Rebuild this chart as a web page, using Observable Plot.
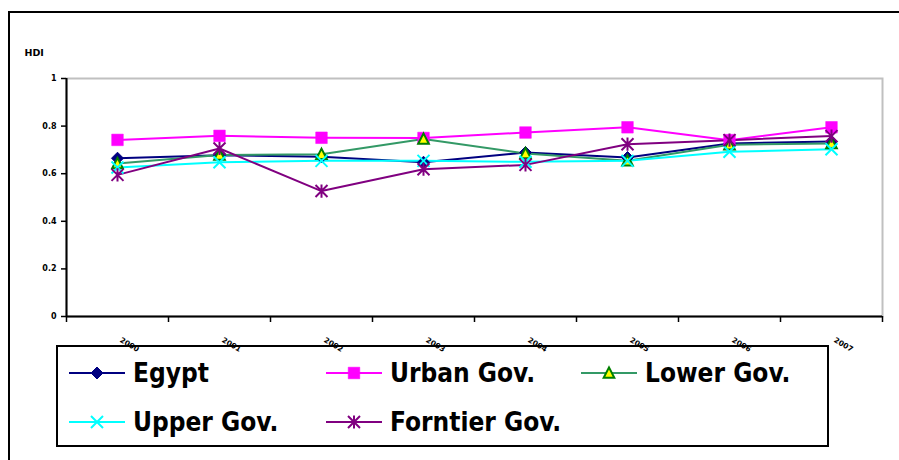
<!DOCTYPE html>
<html>
<head>
<meta charset="utf-8">
<script src="https://cdn.jsdelivr.net/npm/d3@7"></script>
<script src="https://cdn.jsdelivr.net/npm/@observablehq/plot@0.6"></script>
<style>
  body { margin: 0; background: #fff; }
  #chart { position: relative; width: 899px; height: 460px; overflow: hidden; background: #fff; }
  #chart svg.plot-main { position: absolute; left: 0; top: 0; z-index: 2; background: transparent; }
  .outer { position: absolute; left: 8px; top: 11px; width: 900px; height: 460px;
           border-top: 2px solid #000; border-left: 2px solid #000; box-sizing: border-box; z-index: 3; }
  .legend { position: absolute; left: 56px; top: 345px; width: 773px; height: 102px;
            border: 2px solid #000; box-sizing: border-box; background: #fff; z-index: 1; }
  .entry { position: absolute; height: 30px; display: flex; align-items: center; }
  .entry span { margin-left: 8px; font-family: "DejaVu Sans Condensed", "DejaVu Sans", sans-serif;
                font-stretch: condensed; font-weight: bold; font-size: 26px; line-height: 30px; color: #000; white-space: nowrap; }
</style>
</head>
<body>
<div id="chart"></div>
<script>
// Human Development Index by region, 2000–2007
const years = [2000, 2001, 2002, 2003, 2004, 2005, 2006, 2007];
const egypt    = [0.665, 0.678, 0.671, 0.648, 0.689, 0.668, 0.727, 0.735];
const urban    = [0.742, 0.759, 0.751, 0.750, 0.773, 0.795, 0.741, 0.795];
const lower    = [0.643, 0.679, 0.682, 0.746, 0.685, 0.654, 0.722, 0.727];
const upper    = [0.626, 0.648, 0.654, 0.654, 0.650, 0.654, 0.692, 0.703];
const frontier = [0.595, 0.706, 0.527, 0.619, 0.637, 0.724, 0.741, 0.758];
const seriesNames = ["Egypt", "Urban Gov.", "Lower Gov.", "Upper Gov.", "Forntier Gov."];
const yTicks = [0, 0.2, 0.4, 0.6, 0.8, 1];

// Marker shapes; the symbol size is π·r², so r is recovered as the half-extent.
const half = size => Math.sqrt(size / Math.PI);
const diamond = {draw(c, s) { const r = half(s); c.moveTo(0, -r); c.lineTo(r, 0); c.lineTo(0, r); c.lineTo(-r, 0); c.closePath(); }};
const square = {draw(c, s) { const r = half(s); c.rect(-r, -r, 2 * r, 2 * r); }};
const triangle = {draw(c, s) { const r = half(s); c.moveTo(0, -r); c.lineTo(r * 0.95, r * 0.85); c.lineTo(-r * 0.95, r * 0.85); c.closePath(); }};
const cross = {draw(c, s) { const r = half(s); c.moveTo(-r, -r); c.lineTo(r, r); c.moveTo(-r, r); c.lineTo(r, -r); }};
const star = {draw(c, s) { const r = half(s); c.moveTo(-r, -r); c.lineTo(r, r); c.moveTo(-r, r); c.lineTo(r, -r); c.moveTo(0, -r * 1.1); c.lineTo(0, r * 1.1); }};

const styles = [
  {name: seriesNames[0], values: egypt,    line: "#000080", symbol: diamond,  r: 6,   fill: "#000080", stroke: "#000080", sw: 1},
  {name: seriesNames[1], values: urban,    line: "#ff00ff", symbol: square,   r: 5.8, fill: "#ff00ff", stroke: "#ff00ff", sw: 0.5},
  {name: seriesNames[2], values: lower,    line: "#339966", symbol: triangle, r: 5.6, fill: "#ffff00", stroke: "#008000", sw: 2},
  {name: seriesNames[3], values: upper,    line: "#00ffff", symbol: cross,    r: 6,   fill: "none",    stroke: "#00ffff", sw: 2},
  {name: seriesNames[4], values: frontier, line: "#800080", symbol: star,     r: 6,   fill: "none",    stroke: "#800080", sw: 2}
];

const rows = styles.map(s => years.map((year, i) => ({series: s.name, year, value: s.values[i]})));
const boundaries = d3.range(years[0] - 0.5, years[years.length - 1] + 1, 1);

const plot = Plot.plot({
  width: 899,
  height: 460,
  marginLeft: 66,
  marginRight: 17,
  marginTop: 78,
  marginBottom: 144,
  style: {fontFamily: "DejaVu Sans, sans-serif", background: "transparent"},
  x: {domain: [boundaries[0], boundaries[boundaries.length - 1]]},
  y: {domain: [0, 1]},
  marks: [
    Plot.frame({stroke: "#c0c0c0", strokeWidth: 2}),
    Plot.axisY({ticks: yTicks, tickSize: 5, tickPadding: 5, tickFormat: d3.format("~g"), fontSize: 8, fontWeight: "bold", strokeWidth: 1.5, label: null}),
    Plot.axisX({ticks: boundaries, tickSize: 6, tickFormat: () => "", strokeWidth: 1.5, label: null}),
    Plot.ruleY([0], {stroke: "#000", strokeWidth: 2}),
    Plot.ruleX([boundaries[0]], {stroke: "#000", strokeWidth: 2}),
    ...styles.map((s, k) => Plot.line(rows[k], {x: "year", y: "value", stroke: s.line, strokeWidth: 2})),
    ...styles.map((s, k) => Plot.dot(rows[k], {x: "year", y: "value", symbol: s.symbol, r: s.r, fill: s.fill, stroke: s.stroke, strokeWidth: s.sw})),
    Plot.text(years, {x: d => d, frameAnchor: "bottom", rotate: 30, textAnchor: "start", lineAnchor: "middle", dx: 3, dy: 23, fontSize: 7.5, fontWeight: "bold", text: d => String(d)}),
    Plot.text(["HDI"], {frameAnchor: "top-left", textAnchor: "start", lineAnchor: "middle", dx: -42, dy: -26, fontSize: 9.5, fontWeight: "bold"})
  ]
});
plot.classList.add("plot-main");

const chart = document.getElementById("chart");
chart.appendChild(plot);

const outer = document.createElement("div");
outer.className = "outer";
chart.appendChild(outer);

// Legend: two rows of line + marker swatches
const legend = document.createElement("div");
legend.className = "legend";
chart.appendChild(legend);
const colLeft = [11, 268, 523];
const rowMid = [26, 75];
styles.forEach((s, k) => {
  const entry = document.createElement("div");
  entry.className = "entry";
  entry.style.left = colLeft[k % 3] + "px";
  entry.style.top = (rowMid[Math.floor(k / 3)] - 15) + "px";
  const svg = d3.create("svg").attr("width", 56).attr("height", 30);
  svg.append("line").attr("x1", 0).attr("x2", 56).attr("y1", 15).attr("y2", 15)
    .attr("stroke", s.line).attr("stroke-width", 2);
  const p = d3.path();
  s.symbol.draw(p, Math.PI * s.r * s.r);
  svg.append("path").attr("d", p.toString()).attr("transform", "translate(28,15)")
    .attr("fill", s.fill).attr("stroke", s.stroke).attr("stroke-width", s.sw);
  entry.appendChild(svg.node());
  const label = document.createElement("span");
  label.textContent = s.name;
  entry.appendChild(label);
  legend.appendChild(entry);
});
</script>
</body>
</html>
